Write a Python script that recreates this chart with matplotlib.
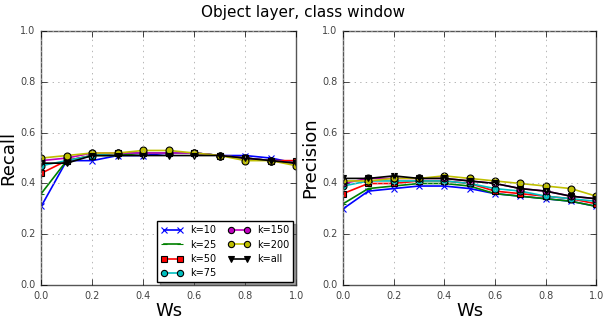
import matplotlib
matplotlib.use('Agg')
import matplotlib.pyplot as plt

plt.style.use('classic')
plt.rcParams['figure.facecolor'] = 'white'
plt.rcParams['savefig.facecolor'] = 'white'

ws = [0.0, 0.1, 0.2, 0.3, 0.4, 0.5, 0.6, 0.7, 0.8, 0.9, 1.0]
labels = ["k=10", "k=25", "k=50", "k=75", "k=150", "k=200", "k=all"]

# recall per k
recall_k10 = [0.31, 0.49, 0.49, 0.51, 0.51, 0.52, 0.52, 0.51, 0.51, 0.50, 0.48]
recall_k25 = [0.36, 0.49, 0.51, 0.51, 0.52, 0.52, 0.52, 0.51, 0.50, 0.49, 0.48]
recall_k50 = [0.44, 0.49, 0.51, 0.52, 0.52, 0.52, 0.52, 0.51, 0.50, 0.49, 0.49]
recall_k75 = [0.47, 0.49, 0.51, 0.52, 0.52, 0.52, 0.52, 0.51, 0.50, 0.49, 0.48]
recall_k150 = [0.49, 0.50, 0.52, 0.52, 0.52, 0.52, 0.52, 0.51, 0.50, 0.49, 0.48]
recall_k200 = [0.50, 0.51, 0.52, 0.52, 0.53, 0.53, 0.52, 0.51, 0.49, 0.49, 0.47]
recall_kall = [0.48, 0.48, 0.51, 0.51, 0.51, 0.51, 0.51, 0.51, 0.50, 0.49, 0.48]

# precision per k
prec_k10 = [0.30, 0.37, 0.38, 0.39, 0.39, 0.38, 0.36, 0.35, 0.34, 0.33, 0.31]
prec_k25 = [0.32, 0.38, 0.39, 0.40, 0.40, 0.39, 0.36, 0.35, 0.34, 0.33, 0.31]
prec_k50 = [0.36, 0.40, 0.40, 0.41, 0.41, 0.40, 0.37, 0.36, 0.35, 0.34, 0.32]
prec_k75 = [0.39, 0.41, 0.41, 0.41, 0.41, 0.40, 0.38, 0.37, 0.35, 0.34, 0.33]
prec_k150 = [0.40, 0.42, 0.42, 0.42, 0.42, 0.41, 0.40, 0.38, 0.37, 0.35, 0.34]
prec_k200 = [0.41, 0.41, 0.42, 0.42, 0.43, 0.42, 0.41, 0.40, 0.39, 0.38, 0.35]
prec_kall = [0.42, 0.42, 0.43, 0.42, 0.42, 0.41, 0.40, 0.38, 0.37, 0.35, 0.34]

recall = [recall_k10, recall_k25, recall_k50, recall_k75, recall_k150, recall_k200, recall_kall]
precision = [prec_k10, prec_k25, prec_k50, prec_k75, prec_k150, prec_k200, prec_kall]

styles = [('b', 'x'), ('g', '_'), ('r', 's'), ('c', 'o'), ('m', 'o'), ('y', 'o'), ('k', 'v')]

fig = plt.figure(figsize=(6.06, 3.2), dpi=100)
ax1 = fig.add_axes([0.068, 0.109, 0.421, 0.794])
ax2 = fig.add_axes([0.566, 0.109, 0.418, 0.794])

for ax, data, ylab in [(ax1, recall, "Recall"), (ax2, precision, "Precision")]:
    for vals, (c, m), lab in zip(data, styles, labels):
        ax.plot(ws, vals, color=c, marker=m, markersize=5, linewidth=1.2,
                markeredgecolor=c if m in ('x', '_') else 'k', markeredgewidth=0.8, label=lab)
    ax.set_xlim(0, 1)
    ax.set_ylim(0, 1)
    ax.set_xticks([0, 0.2, 0.4, 0.6, 0.8, 1.0])
    ax.set_yticks([0, 0.2, 0.4, 0.6, 0.8, 1.0])
    ax.tick_params(labelsize=7, labelcolor='#444444')
    ax.grid(True, color='#aaaaaa', linestyle=':', linewidth=0.6)
    for sp in ax.spines.values():
        sp.set_color('#555555')
    ax.set_xlabel("Ws", fontsize=13, labelpad=1)
    ax.set_ylabel(ylab, fontsize=13, labelpad=2)

ax1.legend(loc='lower right', ncol=2, fontsize=7, numpoints=2, shadow=True, markerscale=0.9,
           handlelength=2.2, columnspacing=1.2, labelspacing=0.45, borderaxespad=0.3)

fig.suptitle("Object layer, class window", fontsize=11, y=0.985)
fig.savefig("out.png", dpi=100)
